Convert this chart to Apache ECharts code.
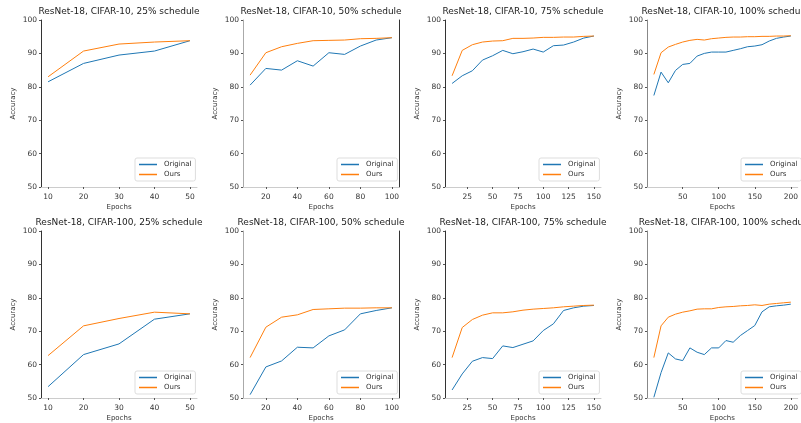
<!DOCTYPE html>
<html>
<head>
<meta charset="utf-8">
<script src="https://cdn.jsdelivr.net/npm/echarts@6/dist/echarts.min.js"></script>
<style>
  html, body { margin: 0; padding: 0; background: #fff; }
  #chart { width: 801px; height: 423px; }
</style>
</head>
<body>
<div id="chart"></div>
<script>
// epochs per schedule
const epochs25 = [10, 20, 30, 40, 50]
const epochs50 = [10, 20, 30, 40, 50, 60, 70, 80, 90, 100]
const epochs75 = [10, 20, 30, 40, 50, 60, 70, 80, 90, 100, 110, 120, 130, 140, 150]
const epochs100 = [10, 20, 30, 40, 50, 60, 70, 80, 90, 100, 110, 120, 130, 140, 150, 160, 170, 180, 190, 200]

// x tick labels per schedule
const ticks25 = [10, 20, 30, 40, 50]
const ticks50 = [20, 40, 60, 80, 100]
const ticks75 = [25, 50, 75, 100, 125, 150]
const ticks100 = [50, 100, 150, 200]

// CIFAR-10
const c10Orig25 = [81.5, 87.0, 89.5, 90.7, 93.8]
const c10Ours25 = [83.0, 90.7, 92.8, 93.4, 93.8]
const c10Orig50 = [80.5, 85.5, 85.0, 87.8, 86.2, 90.2, 89.7, 92.2, 94.0, 94.7]
const c10Ours50 = [83.5, 90.2, 92.0, 93.0, 93.8, 93.9, 94.0, 94.4, 94.5, 94.7]
const c10Orig75 = [81.0, 83.3, 84.8, 88.0, 89.3, 90.9, 89.9, 90.5, 91.3, 90.4, 92.3, 92.5, 93.4, 94.6, 95.2]
const c10Ours75 = [83.3, 90.9, 92.6, 93.4, 93.7, 93.8, 94.5, 94.5, 94.6, 94.8, 94.8, 94.9, 94.9, 95.1, 95.2]
const c10Orig100 = [77.4, 84.4, 81.2, 84.9, 86.7, 87.0, 89.2, 90.0, 90.4, 90.4, 90.4, 90.9, 91.4, 92.0, 92.2, 92.6, 93.7, 94.5, 94.9, 95.2]
const c10Ours100 = [83.7, 90.2, 91.9, 92.7, 93.4, 93.9, 94.2, 94.0, 94.4, 94.6, 94.8, 94.9, 94.9, 95.0, 95.0, 95.1, 95.1, 95.2, 95.2, 95.3]

// CIFAR-100
const c100Orig25 = [53.4, 63.0, 66.2, 73.6, 75.2]
const c100Ours25 = [62.7, 71.6, 73.8, 75.7, 75.2]
const c100Orig50 = [51.0, 59.3, 61.1, 65.2, 65.0, 68.6, 70.4, 75.2, 76.2, 77.0]
const c100Ours50 = [62.1, 71.2, 74.2, 74.9, 76.5, 76.7, 76.9, 76.9, 77.0, 77.0]
const c100Orig75 = [52.4, 57.2, 61.0, 62.1, 61.8, 65.6, 65.1, 66.1, 67.1, 70.2, 72.2, 76.2, 77.0, 77.5, 77.7]
const c100Ours75 = [62.1, 71.1, 73.5, 74.8, 75.5, 75.5, 75.8, 76.3, 76.6, 76.8, 77.0, 77.3, 77.5, 77.7, 77.8]
const c100Orig100 = [50.2, 57.6, 63.5, 61.7, 61.2, 65.0, 63.7, 63.0, 65.0, 65.0, 67.2, 66.7, 68.7, 70.2, 71.7, 75.8, 77.3, 77.6, 77.8, 78.1]
const c100Ours100 = [62.1, 71.6, 74.2, 75.1, 75.7, 76.1, 76.6, 76.7, 76.7, 77.1, 77.3, 77.4, 77.6, 77.7, 77.9, 77.7, 78.1, 78.3, 78.5, 78.7]

const panels = [
  { title: 'ResNet-18, CIFAR-10, 25% schedule', x: epochs25, ticks: ticks25, orig: c10Orig25, ours: c10Ours25 },
  { title: 'ResNet-18, CIFAR-10, 50% schedule', x: epochs50, ticks: ticks50, orig: c10Orig50, ours: c10Ours50 },
  { title: 'ResNet-18, CIFAR-10, 75% schedule', x: epochs75, ticks: ticks75, orig: c10Orig75, ours: c10Ours75 },
  { title: 'ResNet-18, CIFAR-10, 100% schedule', x: epochs100, ticks: ticks100, orig: c10Orig100, ours: c10Ours100 },
  { title: 'ResNet-18, CIFAR-100, 25% schedule', x: epochs25, ticks: ticks25, orig: c100Orig25, ours: c100Ours25 },
  { title: 'ResNet-18, CIFAR-100, 50% schedule', x: epochs50, ticks: ticks50, orig: c100Orig50, ours: c100Ours50 },
  { title: 'ResNet-18, CIFAR-100, 75% schedule', x: epochs75, ticks: ticks75, orig: c100Orig75, ours: c100Ours75 },
  { title: 'ResNet-18, CIFAR-100, 100% schedule', x: epochs100, ticks: ticks100, orig: c100Orig100, ours: c100Ours100 }
]

// layout
const colLeft = [41, 243, 445, 647]
const plotW = 156
const rowTop = [20, 231]
const rowH = [167, 169]
const leftSpine = ['#333', '#aaa', '#333', '#888']
const FONT = 'DejaVu Sans'
const BLUE = '#1f77b4'
const ORANGE = '#ff7f0e'

const zip = (xs, ys) => xs.map((v, i) => [v, ys[i]])

const option = {
  animation: false,
  textStyle: { fontFamily: FONT },
  title: [],
  legend: [],
  grid: [],
  xAxis: [],
  yAxis: [],
  series: []
}

panels.forEach((p, i) => {
  const col = i % 4
  const row = Math.floor(i / 4)
  const left = colLeft[col]
  const top = rowTop[row]
  const h = rowH[row]
  // matplotlib default 5% margins
  const span = p.x[p.x.length - 1] - p.x[0]
  const xmin = p.x[0] - span * 0.05
  const xmax = p.x[p.x.length - 1] + span * 0.05

  option.title.push({
    text: p.title,
    left: left + plotW / 2,
    top: top - 13,
    textAlign: 'center',
    padding: 0,
    textStyle: { fontFamily: FONT, fontSize: 9, fontWeight: 'normal', color: '#222' }
  })

  option.grid.push({ left: left, top: top, width: plotW, height: h })

  option.xAxis.push({
    type: 'value',
    gridIndex: i,
    min: xmin,
    max: xmax,
    name: 'Epochs',
    nameLocation: 'middle',
    nameGap: 17,
    nameTextStyle: { fontFamily: FONT, fontSize: 7, color: '#333' },
    axisLine: { show: true, onZero: false, lineStyle: { color: '#ccc', width: 1 } },
    axisTick: { show: true, length: 2, customValues: p.ticks, lineStyle: { color: '#555' } },
    axisLabel: { customValues: p.ticks, fontSize: 7.5, color: '#333', margin: 6 },
    splitLine: { show: false }
  })

  option.yAxis.push({
    type: 'value',
    gridIndex: i,
    min: 50,
    max: 100,
    interval: 10,
    name: 'Accuracy',
    nameLocation: 'middle',
    nameGap: 24,
    nameRotate: 90,
    nameTextStyle: { fontFamily: FONT, fontSize: 7, color: '#333' },
    axisLine: { show: true, lineStyle: { color: leftSpine[col], width: 1 } },
    axisTick: { show: true, length: 2, lineStyle: { color: '#555' } },
    axisLabel: { fontSize: 7.5, color: '#333', margin: 4, showMinLabel: true, showMaxLabel: true },
    splitLine: { show: false }
  })

  option.series.push({
    name: 'Original',
    type: 'line',
    xAxisIndex: i,
    yAxisIndex: i,
    data: zip(p.x, p.orig),
    showSymbol: false,
    lineStyle: { color: BLUE, width: 1 },
    itemStyle: { color: BLUE },
    z: 3
  })
  option.series.push({
    name: 'Ours',
    type: 'line',
    xAxisIndex: i,
    yAxisIndex: i,
    data: zip(p.x, p.ours),
    showSymbol: false,
    lineStyle: { color: ORANGE, width: 1 },
    itemStyle: { color: ORANGE },
    z: 4
  })

  // legend, lower right inside the axes
  option.legend.push({
    data: ['Original', 'Ours'],
    orient: 'vertical',
    left: left + 94,
    top: top + h - 29,
    icon: 'rect',
    itemWidth: 18,
    itemHeight: 1.5,
    itemGap: 3,
    padding: [3, 4],
    borderColor: '#ddd',
    borderWidth: 1,
    borderRadius: 2,
    backgroundColor: 'rgba(255,255,255,0.85)',
    selectedMode: false,
    textStyle: { fontFamily: FONT, fontSize: 7, color: '#333', padding: [0, 0, 0, 2] }
  })
})

// the darker right-hand frame seen on the 50% panels
;[1, 5].forEach((i) => {
  option.yAxis.push({
    type: 'value',
    gridIndex: i,
    position: 'right',
    min: 50,
    max: 100,
    axisLine: { show: true, lineStyle: { color: '#333', width: 1 } },
    axisTick: { show: false },
    axisLabel: { show: false },
    splitLine: { show: false }
  })
})

const myChart = echarts.init(document.getElementById('chart'), null, { renderer: 'canvas' })
myChart.setOption(option)
</script>
</body>
</html>
